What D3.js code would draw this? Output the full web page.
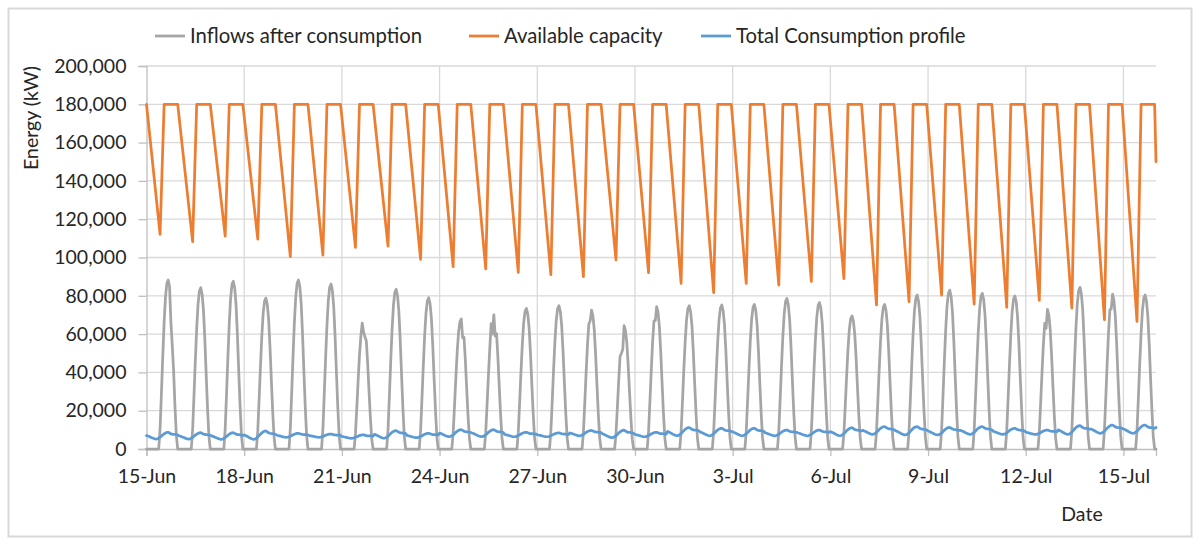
<!DOCTYPE html>
<html>
<head>
<meta charset="utf-8">
<script src="https://cdn.jsdelivr.net/npm/d3@7"></script>
<style>
  html, body { margin: 0; padding: 0; background: #ffffff; }
  svg { display: block; font-family: Lato, "Open Sans", sans-serif; }
</style>
</head>
<body>
<svg id="chart" width="1201" height="545"></svg>
<script>
// ---- data -------------------------------------------------------------
const startDate = "2020-06-15";
const dayCount = 31;

const xTickLabels = ["15-Jun", "18-Jun", "21-Jun", "24-Jun", "27-Jun", "30-Jun",
                     "3-Jul", "6-Jul", "9-Jul", "12-Jul", "15-Jul"];
const yTicks = [0, 20000, 40000, 60000, 80000, 100000, 120000, 140000, 160000, 180000, 200000];

const seriesNames = ["Inflows after consumption", "Available capacity", "Total Consumption profile"];

// daily peak of inflows after consumption (kW)
const inflowPeaks = [88300, 84200, 87600, 78800, 88300, 86200, 65700, 83400, 79000, 67900,
                     70000, 73400, 74800, 72500, 64400, 74300, 74800, 75200, 75500, 78600,
                     76500, 69500, 75500, 80400, 83000, 81300, 79900, 72900, 84400, 80900,
                     80400];
// hourly share of the daily inflow peak (hour 0..23)
const inflowProfile = [0, 0, 0, 0, 0, 0, 0, 0, 0, 0,
                       0.12, 0.33, 0.55, 0.75, 0.90, 0.98, 1.00, 0.96, 0.86, 0.68,
                       0.46, 0.25, 0.08, 0];
// hours that break the usual daily shape: [day, hour, kW]
const inflowAdjust = [
  [0, 18, 66000], [0, 19, 54000],
  [6, 15, 65700], [6, 16, 61000], [6, 17, 58500],
  [9, 16, 67900], [9, 17, 58000],
  [10, 14, 65500], [10, 15, 60000], [10, 16, 70000], [10, 17, 59000],
  [13, 15, 67000], [13, 16, 72500],
  [14, 14, 50000], [14, 15, 52000], [14, 16, 64400],
  [15, 15, 67000],
  [27, 15, 63000],
  [29, 15, 73000]
];

// available capacity: full level, daily low point, level at the end of the record (kW)
const capacityFull = 180000;
const capacityMin = [112100, 108300, 111200, 109600, 100400, 101300, 105300, 106000, 99000, 95200,
                     94000, 92200, 91000, 90000, 98700, 92100, 86500, 81600, 86500, 85600,
                     87500, 89000, 75200, 76900, 80400, 75700, 74000, 77600, 73600, 67500,
                     66600];
const capacityEnd = 150000;
// hour of the day at which capacity bottoms out, is full again, and starts to drop
const capacityHours = [10, 13, 23];

// total consumption: daily low, daily high (kW) and hourly shape between them
const consumptionLow = [5200, 5200, 5050, 5050, 6100, 6100, 5600, 5600, 5900, 6400,
                        6400, 6400, 6400, 6900, 5900, 6400, 6900, 6900, 6900, 6900,
                        6900, 6900, 7600, 7300, 7300, 7600, 7600, 7600, 7600, 8200,
                        8200];
const consumptionHigh = [8700, 8500, 8500, 9400, 8200, 7800, 7400, 9600, 8200, 10100,
                         10100, 8700, 8400, 9700, 9800, 8700, 11200, 10800, 10800, 9900,
                         9900, 11100, 11700, 11700, 11300, 11700, 10800, 9900, 12200, 12500,
                         12500];
const consumptionProfile = [0.52, 0.45, 0.37, 0.28, 0.19, 0.11, 0.04, 0.00, 0.04, 0.13,
                            0.27, 0.44, 0.62, 0.78, 0.90, 0.98, 1.00, 0.90, 0.78, 0.72,
                            0.70, 0.68, 0.64, 0.60];
const consumptionEnd = 11200;

// ---- series ------------------------------------------------------------
const t0 = d3.timeParse("%Y-%m-%d")(startDate);
const tEnd = d3.timeDay.offset(t0, dayCount);
const at = (d, h) => d3.timeHour.offset(t0, d * 24 + h);

const inflow = [];
for (let d = 0; d < dayCount; d++) {
  for (let h = 0; h < 24; h++) inflow.push({ t: at(d, h), v: inflowPeaks[d] * inflowProfile[h] });
}
inflowAdjust.forEach(([d, h, v]) => { inflow[d * 24 + h].v = v; });
inflow.push({ t: tEnd, v: 0 });

const capacity = [{ t: t0, v: capacityFull }];
capacityMin.forEach((m, d) => {
  capacity.push({ t: at(d, capacityHours[0]), v: m },
                { t: at(d, capacityHours[1]), v: capacityFull },
                { t: at(d, capacityHours[2]), v: capacityFull });
});
capacity.push({ t: tEnd, v: capacityEnd });

const consumption = [];
for (let d = 0; d < dayCount; d++) {
  for (let h = 0; h < 24; h++) {
    consumption.push({ t: at(d, h),
      v: consumptionLow[d] + (consumptionHigh[d] - consumptionLow[d]) * consumptionProfile[h] });
  }
}
consumption.push({ t: tEnd, v: consumptionEnd });

// ---- drawing -----------------------------------------------------------
const colors = ["#a5a5a5", "#ed7d31", "#5b9bd5"];
const gridColor = "#d9d9d9";
const axisColor = "#bfbfbf";
const textColor = "#262626";
const fontSize = 19.5;
const legendFontSize = 20.3;

const svg = d3.select("#chart");
const plot = { left: 146.5, right: 1156, top: 66, bottom: 449 };

// chart frame
svg.append("rect")
  .attr("x", 8.5).attr("y", 8.5).attr("width", 1183).attr("height", 528)
  .attr("fill", "#ffffff").attr("stroke", gridColor).attr("stroke-width", 2);

const x = d3.scaleTime().domain([t0, tEnd]).range([plot.left, plot.right]);
const y = d3.scaleLinear().domain([0, 200000]).range([plot.bottom, plot.top]);

const parseTick = d3.timeParse("%d-%b-%Y");
const tickYear = d3.timeFormat("%Y")(t0);
const xTicks = xTickLabels.map(l => parseTick(l + "-" + tickYear));

// gridlines
svg.append("g")
  .selectAll("line")
  .data(yTicks.filter(v => v > 0))
  .join("line")
  .attr("x1", plot.left).attr("x2", plot.right)
  .attr("y1", d => y(d)).attr("y2", d => y(d))
  .attr("stroke", gridColor).attr("stroke-width", 1.3);

svg.append("g")
  .selectAll("line")
  .data(xTicks.slice(1))
  .join("line")
  .attr("x1", d => x(d)).attr("x2", d => x(d))
  .attr("y1", plot.top).attr("y2", plot.bottom)
  .attr("stroke", gridColor).attr("stroke-width", 1.3);

// y axis
const yAxis = svg.append("g")
  .attr("transform", `translate(${plot.left},0)`)
  .call(d3.axisLeft(y).tickValues(yTicks).tickFormat(d3.format(",")).tickSize(8).tickPadding(12));
yAxis.select(".domain").attr("stroke", axisColor).attr("stroke-width", 1.3);
yAxis.selectAll(".tick line").attr("stroke", axisColor).attr("stroke-width", 1.3);
yAxis.selectAll("text").attr("fill", textColor).attr("font-size", fontSize)
  .attr("font-family", "Lato, 'Open Sans', sans-serif");

// x axis
const xAxis = svg.append("g")
  .attr("transform", `translate(0,${plot.bottom})`)
  .call(d3.axisBottom(x).tickValues(xTicks).tickFormat(d3.timeFormat("%-d-%b")).tickSize(7).tickPadding(13));
xAxis.select(".domain").attr("stroke", axisColor).attr("stroke-width", 1.3);
xAxis.selectAll(".tick line").attr("stroke", axisColor).attr("stroke-width", 1.3);
xAxis.selectAll("text").attr("fill", textColor).attr("font-size", fontSize)
  .attr("font-family", "Lato, 'Open Sans', sans-serif");

// axis titles
svg.append("text")
  .attr("transform", "translate(38,118) rotate(-90)")
  .attr("text-anchor", "middle")
  .attr("fill", textColor).attr("font-size", fontSize)
  .text("Energy (kW)");

svg.append("text")
  .attr("x", 1082).attr("y", 521)
  .attr("text-anchor", "middle")
  .attr("fill", textColor).attr("font-size", fontSize)
  .text("Date");

// series lines
const line = d3.line().x(d => x(d.t)).y(d => y(d.v));
[inflow, capacity, consumption].forEach((s, i) => {
  svg.append("path")
    .datum(s)
    .attr("d", line)
    .attr("fill", "none")
    .attr("stroke", colors[i])
    .attr("stroke-width", 2.75)
    .attr("stroke-linejoin", "round")
    .attr("stroke-linecap", "round");
});

// legend
const legendX = [155, 469, 701];
const legend = svg.append("g").attr("transform", "translate(0,36)");
seriesNames.forEach((name, i) => {
  const g = legend.append("g").attr("transform", `translate(${legendX[i]},0)`);
  g.append("line").attr("x1", 0).attr("x2", 30).attr("y1", 0).attr("y2", 0)
    .attr("stroke", colors[i]).attr("stroke-width", 2.75);
  g.append("text").attr("x", 35).attr("y", 0).attr("dy", "0.35em")
    .attr("fill", textColor).attr("font-size", legendFontSize).text(name);
});
</script>
</body>
</html>
